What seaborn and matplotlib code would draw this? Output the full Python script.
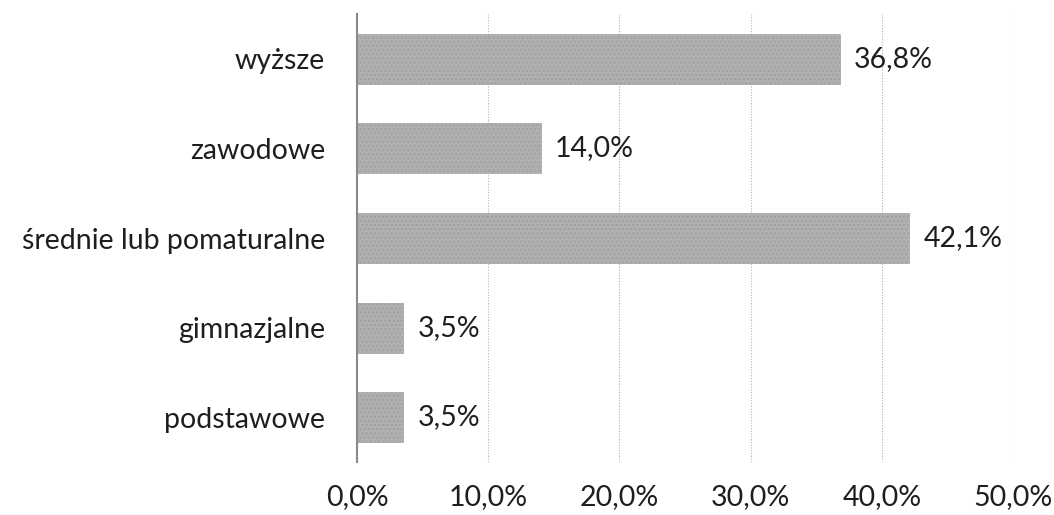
import matplotlib
matplotlib.use("Agg")
import matplotlib.pyplot as plt
import seaborn as sns
import pandas as pd

categories = ["wyższe", "zawodowe", "średnie lub pomaturalne", "gimnazjalne", "podstawowe"]
values = [36.8, 14.0, 42.1, 3.5, 3.5]
tick_values = [0, 10, 20, 30, 40, 50]
tick_labels = ["0,0%", "10,0%", "20,0%", "30,0%", "40,0%", "50,0%"]

sns.set_theme(style="white")
plt.rcParams["font.family"] = ["Lato", "DejaVu Sans"]
plt.rcParams["hatch.color"] = "#8c8c8c"
plt.rcParams["hatch.linewidth"] = 1.0

df = pd.DataFrame({"cat": categories, "val": values})

fig = plt.figure(figsize=(10.54, 5.15), dpi=100)
ax = fig.add_axes([357/1054, 1 - 462/515, (1013 - 357)/1054, (462 - 14)/515])

sns.barplot(data=df, x="val", y="cat", orient="h", color="#b0b0b0",
            width=0.56, ax=ax, saturation=1)
for p in ax.patches:
    p.set_hatch("....")
    p.set_edgecolor("#a0a0a0")
    p.set_linewidth(0.5)

fs = 20.5
ax.set_xlim(0, 50)
ax.set_xticks(tick_values)
ax.set_xticklabels(tick_labels, fontsize=fs, color="#1e1e1e")
ax.tick_params(axis="x", length=0, pad=16)
ax.tick_params(axis="y", length=0, pad=23, labelsize=fs, labelcolor="#1e1e1e")
ax.set_xlabel("")
ax.set_ylabel("")

for x in tick_values[1:]:
    ax.axvline(x, color="#b0b0b0", linewidth=0.8, linestyle=(0, (1, 1.5)), zorder=0)

for s in ["top", "right", "bottom"]:
    ax.spines[s].set_visible(False)
ax.spines["left"].set_color("#8a8a8a")
ax.spines["left"].set_linewidth(1.5)

for i, v in enumerate(values):
    ax.text(v + 1.1, i, f"{v:.1f}%".replace(".", ","), va="center", ha="left",
            fontsize=fs, color="#1e1e1e")

fig.savefig("out.png", dpi=100, facecolor="white")
